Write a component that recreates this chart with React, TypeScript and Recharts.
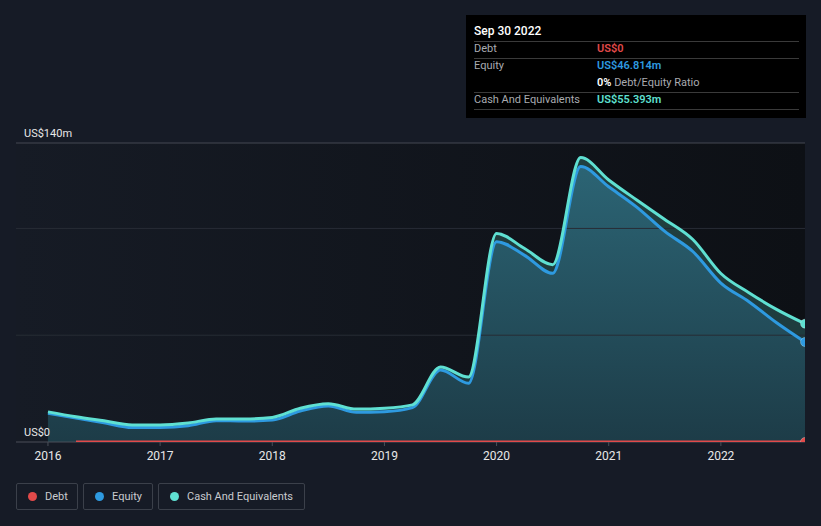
import React from 'react';
import { ComposedChart, Area, Line, XAxis, YAxis, ReferenceLine, ReferenceArea } from 'recharts';

// quarter ends, as decimal years
const quarters = [
  2016, 2016.25, 2016.5, 2016.75, 2017, 2017.25, 2017.5, 2017.75,
  2018, 2018.25, 2018.5, 2018.75, 2019, 2019.25, 2019.5, 2019.75,
  2020, 2020.25, 2020.5, 2020.75, 2021, 2021.25, 2021.5, 2021.75,
  2022, 2022.25, 2022.5, 2022.75,
];

// US$ millions
const cash = [
  14.1, 11.8, 9.9, 8.0, 8.0, 8.9, 10.8, 10.8,
  11.5, 15.8, 17.9, 15.4, 15.8, 17.4, 35.1, 30.4,
  97.6, 90.6, 83.0, 133.2, 122.7, 113.3, 104.2, 94.8,
  78.9, 69.9, 62.0, 55.393,
];
const equity = [
  13.5, 11.2, 9.0, 6.8, 6.8, 7.6, 10.0, 9.8,
  10.3, 14.5, 16.9, 13.9, 14.2, 16.1, 33.7, 27.5,
  93.8, 87.4, 79.0, 129.0, 119.5, 110.0, 98.6, 89.2,
  74.4, 65.7, 55.7, 46.814,
];
const debt = [
  null, 0, 0, 0, 0, 0, 0, 0,
  0, 0, 0, 0, 0, 0, 0, 0,
  0, 0, 0, 0, 0, 0, 0, 0,
  0, 0, 0, 0,
];

const yearTicks = [2016, 2017, 2018, 2019, 2020, 2021, 2022];
const valueTicks = [0, 140];
const gridValues = [50, 100];

const data = quarters.map((q, i) => ({ q, cash: cash[i], equity: equity[i], debt: debt[i] }));

const BG = '#161b26';
const CASH = '#5fe0d2';
const EQUITY = '#2e9ae0';
const DEBT = '#e24a4a';
const FONT = 'Roboto, "Noto Sans", sans-serif';

const lastDot = (color: string) => (props: any) => {
  const { cx, cy, index } = props;
  if (index !== quarters.length - 1 || cx == null || cy == null) return <g key={`d-${index}`} />;
  return <circle key={`d-${index}`} cx={cx} cy={cy} r={4.5} fill={color} stroke="#e8fffb" strokeOpacity={0.3} strokeWidth={1} />;
};

const yLabel = (v: number) => (v === 0 ? 'US$0' : `US$${v}m`);

const LegendItem = ({ color, label, width }: { color: string; label: string; width: number }) => (
  <div
    style={{
      width,
      height: 27,
      boxSizing: 'border-box',
      border: '1px solid #3b404a',
      borderRadius: 2,
      display: 'flex',
      alignItems: 'center',
      paddingLeft: 11,
      marginRight: 5,
      color: '#c9cbcf',
      fontSize: 11,
      whiteSpace: 'nowrap',
    }}
  >
    <span style={{ width: 9, height: 9, borderRadius: '50%', background: color, marginRight: 8, flexShrink: 0 }} />
    {label}
  </div>
);

const Row = ({ label, value, color, top }: { label: string; value: React.ReactNode; color: string; top: number }) => (
  <div style={{ position: 'absolute', left: 0, top, width: '100%', fontSize: 11, whiteSpace: 'nowrap' }}>
    <span style={{ position: 'absolute', left: 8, color: '#a9abb0' }}>{label}</span>
    <span style={{ position: 'absolute', left: 131, color, fontWeight: 600 }}>{value}</span>
  </div>
);

export default function App() {
  return (
    <div style={{ position: 'fixed', left: 0, top: 0, width: 821, height: 526, background: BG, fontFamily: FONT, overflow: 'hidden' }}>
      <ComposedChart width={821} height={526} data={data} margin={{ top: 143, right: 16, bottom: 54, left: 16 }}>
        <defs>
          <linearGradient id="plotBg" x1="0" y1="0" x2="1" y2="0">
            <stop offset="0%" stopColor="#161b25" />
            <stop offset="100%" stopColor="#0d1015" />
          </linearGradient>
          <linearGradient id="eqFill" x1="0" y1="0" x2="0" y2="1">
            <stop offset="0%" stopColor="#2c6677" />
            <stop offset="100%" stopColor="#1d3c48" />
          </linearGradient>
          <linearGradient id="cashFill" x1="0" y1="0" x2="0" y2="1">
            <stop offset="0%" stopColor="#21403f" />
            <stop offset="100%" stopColor="#1c3a3f" />
          </linearGradient>
        </defs>
        <XAxis
          dataKey="q"
          type="number"
          domain={[2015.715, 2022.75]}
          ticks={yearTicks}
          tickFormatter={(v) => String(v)}
          allowDataOverflow
          height={30}
          axisLine={false}
          tickLine={{ stroke: '#4a4f59' }}
          tickSize={4}
          tickMargin={5}
          tick={{ fill: '#e8e8e8', fontSize: 12, fontFamily: FONT }}
        />
        <YAxis type="number" domain={[0, 140]} ticks={valueTicks} allowDataOverflow width={0} hide />
        <ReferenceArea x1={2015.715} x2={2022.75} y1={0} y2={140} fill="url(#plotBg)" fillOpacity={1} stroke="none" />
        {gridValues.map((v) => (
          <ReferenceLine key={v} y={v} stroke="#272c35" strokeWidth={1} />
        ))}
        {valueTicks.map((v) => (
          <ReferenceLine
            key={`t${v}`}
            y={v}
            stroke={v === 0 ? '#4a4f59' : '#454952'}
            strokeWidth={1}
            label={(p: any) => (
              <text x={24} y={p.viewBox.y - 6} fill="#e8e8e8" fontSize={11} fontFamily={FONT}>
                {yLabel(v)}
              </text>
            )}
          />
        ))}
        <Area
          type="monotone"
          dataKey="cash"
          stroke="none"
          fill="url(#cashFill)"
          fillOpacity={1}
          isAnimationActive={false}
          dot={false}
          activeDot={false}
        />
        <Area
          type="monotone"
          dataKey="equity"
          stroke="none"
          fill="url(#eqFill)"
          fillOpacity={0.95}
          isAnimationActive={false}
          dot={false}
          activeDot={false}
        />
        <Line
          type="monotone"
          dataKey="debt"
          stroke={DEBT}
          strokeWidth={3}
          connectNulls={false}
          isAnimationActive={false}
          dot={lastDot(DEBT)}
          activeDot={false}
        />
        <Line
          type="monotone"
          dataKey="equity"
          stroke={EQUITY}
          strokeWidth={3}
          isAnimationActive={false}
          dot={lastDot(EQUITY)}
          activeDot={false}
        />
        <Line
          type="monotone"
          dataKey="cash"
          stroke={CASH}
          strokeWidth={3}
          isAnimationActive={false}
          dot={lastDot(CASH)}
          activeDot={false}
        />
      </ComposedChart>

      <div style={{ position: 'absolute', left: 16, top: 483, display: 'flex' }}>
        <LegendItem color={DEBT} label="Debt" width={62} />
        <LegendItem color={EQUITY} label="Equity" width={70} />
        <LegendItem color={CASH} label="Cash And Equivalents" width={147} />
      </div>

      <div style={{ position: 'absolute', left: 466, top: 15, width: 340, height: 103, background: '#000000' }}>
        <div style={{ position: 'absolute', left: 8, top: 9, color: '#ffffff', fontSize: 12, fontWeight: 500 }}>Sep 30 2022</div>
        {[26, 43, 77, 94].map((t) => (
          <div key={t} style={{ position: 'absolute', left: 8, top: t, width: 325, height: 1, background: '#3a3a3a' }} />
        ))}
        <Row label="Debt" value="US$0" color={DEBT} top={27} />
        <Row label="Equity" value="US$46.814m" color={EQUITY} top={44} />
        <Row
          label=""
          value={
            <span>
              <span style={{ color: '#ffffff' }}>0%</span>
              <span style={{ color: '#a9abb0', fontWeight: 400 }}> Debt/Equity Ratio</span>
            </span>
          }
          color="#ffffff"
          top={61}
        />
        <Row label="Cash And Equivalents" value="US$55.393m" color={CASH} top={78} />
      </div>
    </div>
  );
}
